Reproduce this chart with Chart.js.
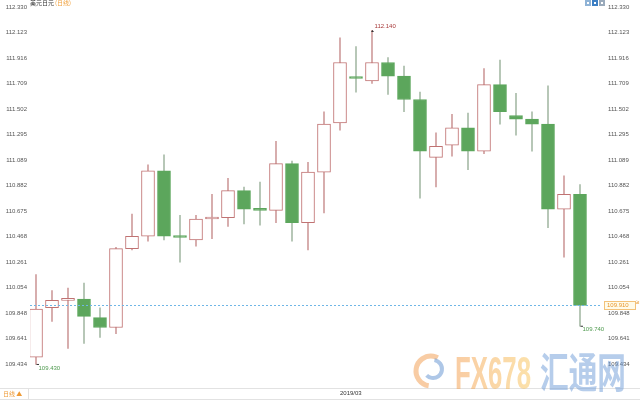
<!DOCTYPE html>
<html>
<head>
<meta charset="utf-8">
<script src="https://cdn.jsdelivr.net/npm/chart.js@4.4.1/dist/chart.umd.min.js"></script>
<style>
  html, body { margin: 0; padding: 0; background: #fff; }
  #wrap { width: 640px; height: 400px; position: relative; }
</style>
</head>
<body>
<div id="wrap"><canvas id="kline" width="640" height="400"></canvas></div>
<script>
// USD/JPY daily candles
const dates = [
    '2019-02-04', '2019-02-05', '2019-02-06', '2019-02-07', '2019-02-08',
    '2019-02-11', '2019-02-12', '2019-02-13', '2019-02-14', '2019-02-15',
    '2019-02-18', '2019-02-19', '2019-02-20', '2019-02-21', '2019-02-22',
    '2019-02-25', '2019-02-26', '2019-02-27', '2019-02-28', '2019-03-01',
    '2019-03-04', '2019-03-05', '2019-03-06', '2019-03-07', '2019-03-08',
    '2019-03-11', '2019-03-12', '2019-03-13', '2019-03-14', '2019-03-15',
    '2019-03-18', '2019-03-19', '2019-03-20', '2019-03-21', '2019-03-22'
];
const opens = [
    109.49, 109.89, 109.95, 109.96, 109.81, 109.73, 110.37, 110.47, 111.00, 110.47,
    110.44, 110.61, 110.62, 110.84, 110.69, 110.68, 111.06, 110.58, 110.99, 111.39,
    111.76, 111.73, 111.88, 111.77, 111.58, 111.11, 111.21, 111.35, 111.16, 111.70,
    111.45, 111.42, 111.38, 110.69, 110.81
];
const highs = [
    110.16, 110.03, 110.05, 110.09, 109.89, 110.38, 110.65, 111.05, 111.13, 110.64,
    110.64, 110.81, 110.94, 110.87, 110.91, 111.24, 111.08, 111.07, 111.48, 112.08,
    112.01, 112.14, 111.92, 111.85, 111.64, 111.31, 111.46, 111.47, 111.83, 111.90,
    111.63, 111.48, 111.69, 110.96, 110.89
];
const lows = [
    109.43, 109.78, 109.56, 109.60, 109.65, 109.68, 110.36, 110.43, 110.44, 110.26,
    110.39, 110.45, 110.55, 110.57, 110.56, 110.58, 110.43, 110.36, 110.66, 111.33,
    111.64, 111.71, 111.62, 111.48, 110.78, 110.87, 111.12, 111.01, 111.14, 111.38,
    111.29, 111.16, 110.54, 110.30, 109.74
];
const closes = [
    109.88, 109.95, 109.96, 109.82, 109.73, 110.37, 110.47, 111.00, 110.47, 110.46,
    110.61, 110.62, 110.84, 110.69, 110.68, 111.06, 110.58, 110.99, 111.38, 111.88,
    111.75, 111.88, 111.77, 111.58, 111.16, 111.20, 111.35, 111.16, 111.70, 111.48,
    111.42, 111.38, 110.69, 110.81, 109.91
];
const yTicks = [
    112.330, 112.123, 111.916, 111.709, 111.502, 111.295, 111.089, 110.882,
    110.675, 110.468, 110.261, 110.054, 109.848, 109.641, 109.434
];
const lastPrice = 109.910;
// labelled extremes: candle index and which end
const markIdx = [21, 0, 34];
const markEnd = ['high', 'low', 'low'];

const UP_LINE = '#c07272';
const UP_WICK = '#cf9d9d';
const DOWN_FILL = '#5ca65c';
const DOWN_WICK = '#a9bca9';
const FONT = '"Liberation Sans", Arial, sans-serif';

const isUp = closes.map((c, i) => c >= opens[i]);
const marchIdx = dates.findIndex(d => d.startsWith('2019-03'));

function fixAxis(w, h) {
    return function(s) {
        if (w) s.width = w;
        if (h) s.height = h;
        s.paddingTop = 0;
        s.paddingBottom = 0;
        s.paddingLeft = 0;
        s.paddingRight = 0;
    };
}

const overlay = {
    id: 'overlay',
    beforeDraw(chart) {
        const ctx = chart.ctx;
        ctx.save();
        ctx.fillStyle = '#fff';
        ctx.fillRect(0, 0, chart.width, chart.height);
        ctx.restore();
    },
    afterDatasetsDraw(chart) {
        const { ctx, chartArea, scales: { x, y } } = chart;
        ctx.save();
        // last price dotted line
        const py = Math.round(y.getPixelForValue(lastPrice)) + 0.5;
        ctx.strokeStyle = '#6fb6e6';
        ctx.lineWidth = 1;
        ctx.setLineDash([2, 2]);
        ctx.beginPath();
        ctx.moveTo(chartArea.left, py);
        ctx.lineTo(chartArea.right, py);
        ctx.stroke();
        ctx.setLineDash([]);

        // high / low marks
        ctx.font = '6px ' + FONT;
        ctx.textBaseline = 'middle';
        ctx.textAlign = 'left';
        markIdx.forEach((idx, k) => {
            const high = markEnd[k] === 'high';
            const v = high ? highs[idx] : lows[idx];
            const px = Math.round(x.getPixelForValue(idx)) + 0.5;
            const vy = y.getPixelForValue(v);
            const col = high ? '#a83a3a' : '#4f9a4f';
            ctx.strokeStyle = '#333';
            ctx.fillStyle = '#333';
            ctx.beginPath();
            if (high) {
                ctx.moveTo(px - 1.5, vy + 1.5);
                ctx.lineTo(px, vy - 0.5);
                ctx.lineTo(px + 1.5, vy + 1.5);
                ctx.fill();
            } else {
                ctx.moveTo(px, vy);
                ctx.lineTo(px + 2.5, vy);
                ctx.stroke();
            }
            ctx.fillStyle = col;
            ctx.fillText(v.toFixed(3), px + 2, high ? vy - 4 : vy + 3.5);
        });
        ctx.restore();
    },
    afterDraw(chart) {
        const { ctx, scales: { y } } = chart;
        ctx.save();
        // title
        ctx.textBaseline = 'middle';
        ctx.textAlign = 'left';
        ctx.font = '6px "Noto Sans CJK SC", sans-serif';
        ctx.fillStyle = '#333';
        ctx.fillText('美元日元', 30, 3);
        const tw = ctx.measureText('美元日元').width;
        ctx.fillStyle = '#f0a03c';
        ctx.fillText('(日线)', 30 + tw + 1, 3);

        // toolbar icons, top right
        ['#8fb3d6', '#3d7fc4', '#9aaabb'].forEach((c, i) => {
            ctx.fillStyle = c;
            ctx.fillRect(585 + i * 7, 0, 6, 6);
            ctx.fillStyle = '#fff';
            ctx.fillRect(587 + i * 7, 2, 2, 2);
        });

        // last price tag
        const py = y.getPixelForValue(lastPrice);
        ctx.fillStyle = '#fffbea';
        ctx.fillRect(604, py - 4, 31, 8);
        ctx.strokeStyle = '#f3c27a';
        ctx.lineWidth = 1;
        ctx.strokeRect(604.5, Math.round(py - 4) + 0.5, 31, 8);
        ctx.fillStyle = '#e8962c';
        ctx.font = '6px ' + FONT;
        ctx.fillText(lastPrice.toFixed(3), 607, py);
        ctx.fillText('≥', 636, py - 3);

        // bottom strip
        ctx.strokeStyle = '#e2e2e2';
        ctx.beginPath();
        ctx.moveTo(0, 388.5); ctx.lineTo(640, 388.5);
        ctx.moveTo(0, 399.5); ctx.lineTo(640, 399.5);
        ctx.moveTo(28.5, 389); ctx.lineTo(28.5, 400);
        ctx.stroke();
        ctx.fillStyle = '#ee9a36';
        ctx.font = '6px "Noto Sans CJK SC", sans-serif';
        ctx.fillText('日线 ▲', 3, 394);

        // site watermark
        ctx.globalAlpha = 0.5;
        ctx.lineWidth = 5;
        ctx.strokeStyle = '#f19a4a';
        ctx.beginPath();
        ctx.arc(431, 371, 15, 0.55 * Math.PI, 1.65 * Math.PI);
        ctx.stroke();
        ctx.lineWidth = 4;
        ctx.strokeStyle = '#5d8fd0';
        ctx.beginPath();
        ctx.arc(433, 369, 9, -0.45 * Math.PI, 0.75 * Math.PI);
        ctx.stroke();

        ctx.textBaseline = 'alphabetic';
        ctx.font = 'bold 46px ' + FONT;
        let w = ctx.measureText('FX678').width;
        ctx.save();
        ctx.translate(455, 389);
        ctx.scale(76 / w, 1);
        const grad = ctx.createLinearGradient(0, 0, w, 0);
        grad.addColorStop(0, '#f39a48');
        grad.addColorStop(1, '#f8c356');
        ctx.fillStyle = grad;
        ctx.fillText('FX678', 0, 0);
        ctx.restore();

        ctx.font = 'bold 40px "Noto Sans CJK SC", sans-serif';
        w = ctx.measureText('汇通网').width;
        ctx.save();
        ctx.translate(540, 388);
        ctx.scale(86 / w, 1.05);
        ctx.fillStyle = '#6d9bd8';
        ctx.fillText('汇通网', 0, 0);
        ctx.restore();
        ctx.restore();
    }
};

const yAxis = (position, padding, width) => ({
    position: position,
    min: 109.239,
    max: 112.387,
    beginAtZero: false,
    grid: { display: false, drawTicks: false },
    border: { display: false },
    afterBuildTicks: s => { s.ticks = yTicks.map(v => ({ value: v })); },
    afterFit: fixAxis(width, 0),
    ticks: {
        padding: padding,
        autoSkip: false,
        color: '#555',
        font: { family: FONT, size: 6 },
        callback: v => v.toFixed(3)
    }
});

new Chart(document.getElementById('kline'), {
    type: 'bar',
    data: {
        datasets: [
            {
                label: 'body',
                data: dates.map((d, i) => ({ x: i, y: [opens[i], closes[i]] })),
                backgroundColor: isUp.map(u => u ? '#ffffff' : DOWN_FILL),
                borderColor: isUp.map(u => u ? UP_LINE : DOWN_FILL),
                borderWidth: 1,
                borderSkipped: false,
                barThickness: 13,
                minBarLength: 2,
                grouped: false,
                order: 1
            },
            {
                label: 'wick',
                data: dates.map((d, i) => ({ x: i, y: [lows[i], highs[i]] })),
                backgroundColor: isUp.map(u => u ? UP_WICK : DOWN_WICK),
                borderWidth: 0,
                barThickness: 1,
                grouped: false,
                order: 2
            }
        ]
    },
    options: {
        responsive: false,
        animation: false,
        layout: { padding: 0 },
        plugins: {
            legend: { display: false },
            tooltip: { enabled: false }
        },
        scales: {
            x: {
                type: 'linear',
                min: -0.375,
                max: 35.25,
                offset: false,
                grid: { display: false, drawTicks: false },
                border: { display: false },
                afterBuildTicks: s => { s.ticks = [{ value: marchIdx }]; },
                afterFit: fixAxis(0, 12),
                ticks: {
                    align: 'start',
                    autoSkip: false,
                    maxRotation: 0,
                    padding: 2,
                    color: '#333',
                    font: { family: FONT, size: 6 },
                    callback: v => dates[v].slice(0, 7).replace('-', '/')
                }
            },
            y: yAxis('right', 8, 40),
            yL: yAxis('left', 3, 30)
        }
    },
    plugins: [overlay]
});
</script>
</body>
</html>
